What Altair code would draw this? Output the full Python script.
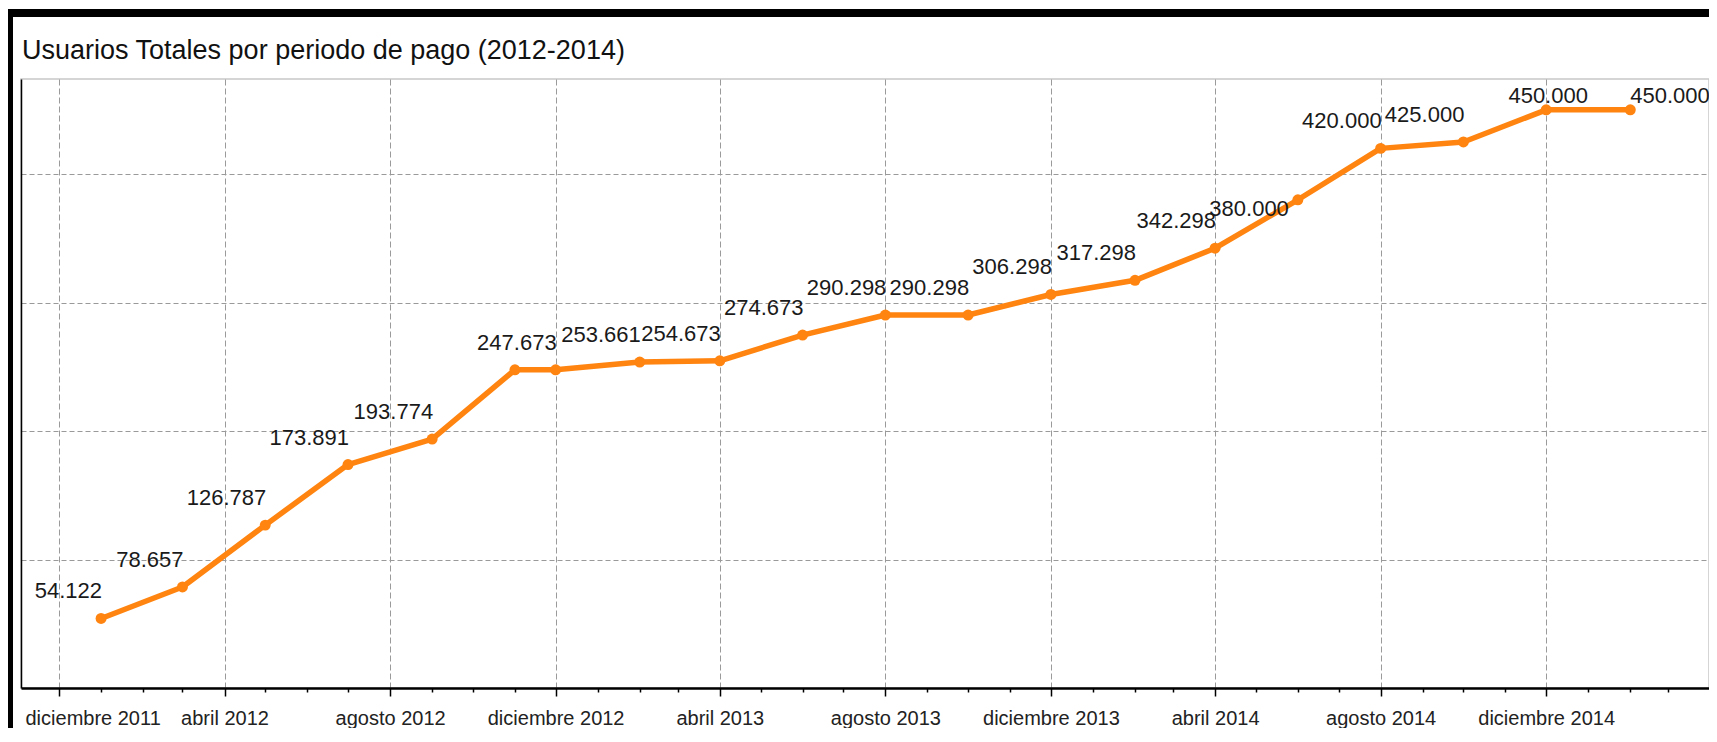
import altair as alt
import pandas as pd

titulo = "Usuarios Totales por periodo de pago (2012-2014)"

fechas = ["2012-01-01", "2012-03-01", "2012-05-01", "2012-07-01", "2012-09-01",
          "2012-11-01", "2012-12-01", "2013-02-01", "2013-04-01", "2013-06-01",
          "2013-08-01", "2013-10-01", "2013-12-01", "2014-02-01", "2014-04-01",
          "2014-06-01", "2014-08-01", "2014-10-01", "2014-12-01", "2015-02-01"]
usuarios = [54122, 78657, 126787, 173891, 193774,
            247673, 247673, 253661, 254673, 274673,
            290298, 290298, 306298, 317298, 342298,
            380000, 420000, 425000, 450000, 450000]
meses = ["enero", "febrero", "marzo", "abril", "mayo", "junio", "julio",
         "agosto", "septiembre", "octubre", "noviembre", "diciembre"]
y_grid = [100000, 200000, 300000, 400000]

# label placement groups (style only)
sin_etiqueta = ["2012-11-01"]
etiqueta_abajo = ["2014-06-01"]
etiqueta_centro = ["2014-12-01"]
etiqueta_derecha = ["2015-02-01"]


def ms(s):
    return int(pd.Timestamp(s, tz="UTC").timestamp() * 1000)


ticks = [ms(d) for d in pd.date_range("2011-12-01", "2015-03-01", freq="MS").strftime("%Y-%m-%d")]
x_domain = [ms("2011-11-03"), ms("2015-03-31")]

df = pd.DataFrame({"fecha": fechas, "clave": fechas, "usuarios": usuarios})

FONT = "'Liberation Sans', Arial, sans-serif"
ORANGE = "#ff8410"
W, H = 1688, 609

mes_expr = "[" + ",".join(f"'{m}'" for m in meses) + "]"
label_expr = (f"utcmonth(datum.value) % 4 == 3 ? {mes_expr}[utcmonth(datum.value)] + ' ' + "
              "utcyear(datum.value) : ''")
major_test = "utcmonth(datum.value) % 4 == 3"

x_enc = alt.X(
    "fecha:T",
    scale=alt.Scale(type="utc", domain=x_domain),
    axis=alt.Axis(
        values=ticks, title=None, labelExpr=label_expr, labelOverlap=False,
        labelFlush=40, labelFlushOffset=34,
        labelFont=FONT, labelFontSize=20, labelColor="#222222", labelPadding=12,
        tickSize={"condition": {"test": major_test, "value": 8}, "value": 4},
        tickColor="#000000", tickWidth=1.5,
        domainColor="#000000", domainWidth=2.5,
        grid=True,
        gridOpacity={"condition": {"test": major_test, "value": 1}, "value": 0},
        gridColor="#9a9a9a", gridDash=[6, 3], gridWidth=1,
    ),
)
y_enc = alt.Y(
    "usuarios:Q",
    scale=alt.Scale(domain=[0, 474000], nice=False, zero=True),
    axis=alt.Axis(values=y_grid, title=None, labels=False, ticks=False,
                  domainColor="#000000", domainWidth=1.5,
                  grid=True, gridColor="#9a9a9a", gridDash=[5, 3], gridWidth=1.2),
)

base = alt.Chart(df).encode(x=x_enc, y=y_enc)

line = base.mark_line(color=ORANGE, strokeWidth=5.5, strokeJoin="round", strokeCap="round")
points = base.mark_circle(color=ORANGE, size=120, opacity=1)

text_props = dict(font=FONT, fontSize=22, color="#1a1a1a", baseline="middle")
txt = alt.Text("usuarios:Q", format=",d")

especiales = sin_etiqueta + etiqueta_abajo + etiqueta_centro + etiqueta_derecha
lab_main = base.transform_filter(
    ~alt.FieldOneOfPredicate(field="clave", oneOf=especiales)
).mark_text(align="right", dx=1, dy=-27, **text_props).encode(text=txt)
lab_abajo = base.transform_filter(
    alt.FieldOneOfPredicate(field="clave", oneOf=etiqueta_abajo)
).mark_text(align="right", dx=-9, dy=9, **text_props).encode(text=txt)
lab_centro = base.transform_filter(
    alt.FieldOneOfPredicate(field="clave", oneOf=etiqueta_centro)
).mark_text(align="center", dx=2, dy=-14, **text_props).encode(text=txt)
lab_derecha = base.transform_filter(
    alt.FieldOneOfPredicate(field="clave", oneOf=etiqueta_derecha)
).mark_text(align="left", dx=0, dy=-14, **text_props).encode(text=txt)

marco_df = pd.DataFrame({"k": [0]})
marco_sup = alt.Chart(marco_df).mark_rule(color="#000000", strokeWidth=8).encode(
    x=alt.value(-13), x2=alt.value(W), y=alt.value(-66))
marco_izq = alt.Chart(marco_df).mark_rule(color="#000000", strokeWidth=5).encode(
    x=alt.value(-10.5), y=alt.value(-70), y2=alt.value(H + 40))
titulo_txt = alt.Chart(marco_df).mark_text(
    align="left", baseline="alphabetic", font=FONT, fontSize=27, color="#111111"
).encode(x=alt.value(1), y=alt.value(-20), text=alt.value(titulo))

chart = alt.layer(
    line, points, lab_main, lab_abajo, lab_centro, lab_derecha,
    marco_sup, marco_izq, titulo_txt
).properties(
    width=W, height=H,
    autosize=alt.AutoSizeParams(type="none"),
    padding={"left": 13, "top": 71, "right": 0, "bottom": 40},
).configure(
    locale={"number": {"decimal": ",", "thousands": ".", "grouping": [3],
                       "currency": ["", "\u00a0€"]}}
).configure_view(stroke="#c8c8c8", strokeWidth=1.5)

chart.save("out.html", embed_options={"renderer": "svg", "actions": False})
